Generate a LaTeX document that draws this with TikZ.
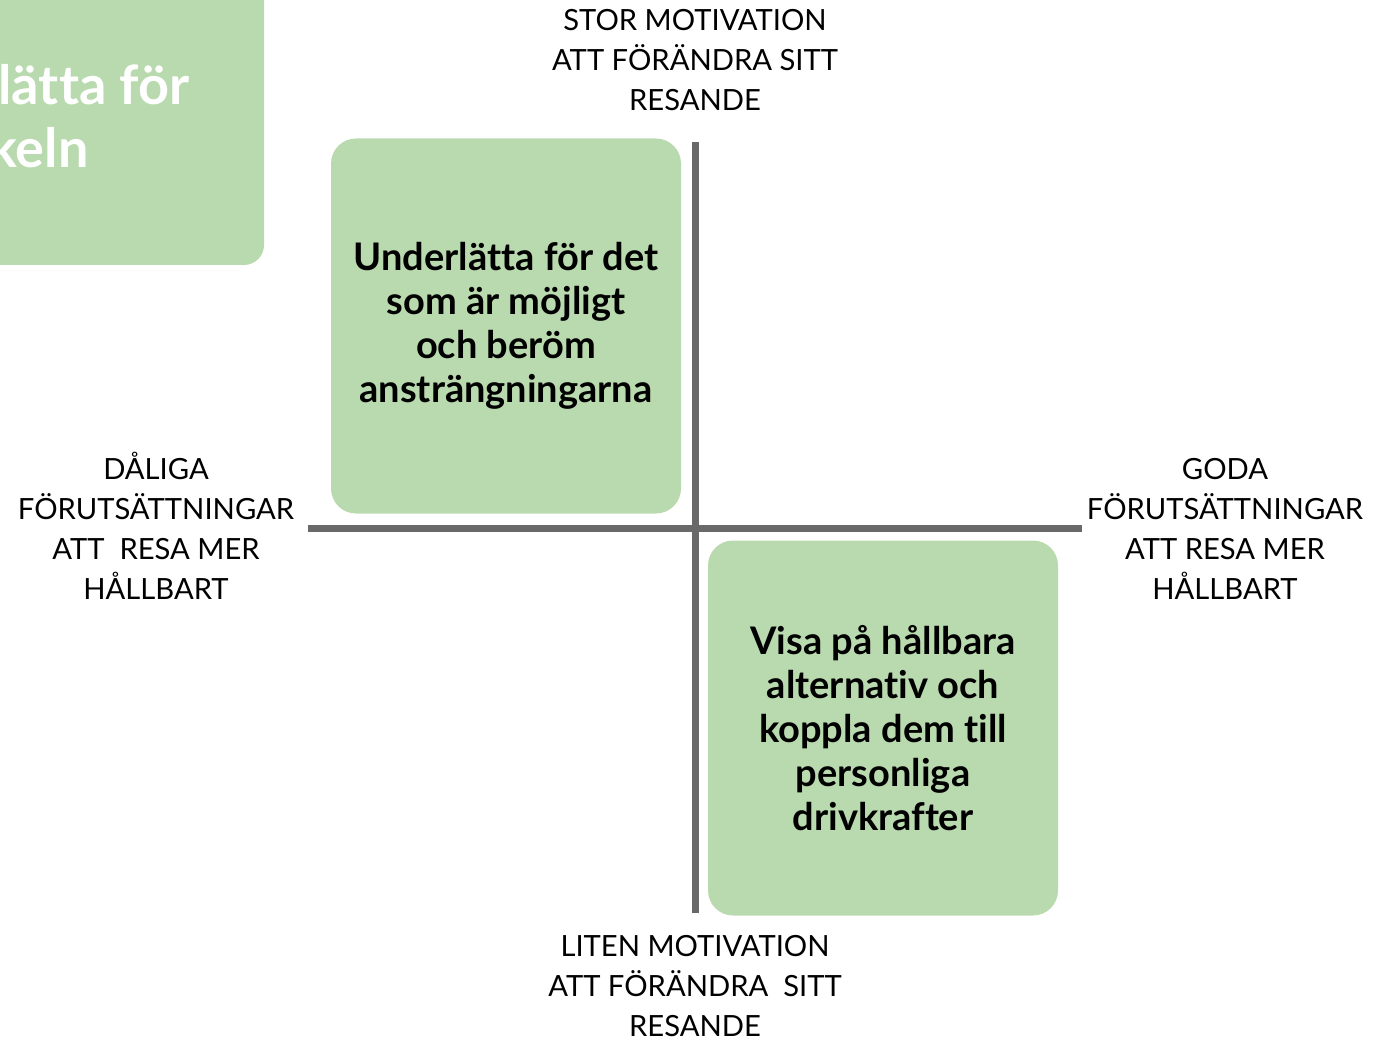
\documentclass[tikz,border=0pt]{standalone}
\usepackage{fontspec}
\setmainfont{Lato}[Ligatures=NoCommon]
\definecolor{boxgreen}{RGB}{185,217,174}
\definecolor{axisgray}{RGB}{105,105,105}
\tikzset{quadbox/.style={fill=boxgreen, rounded corners=12.5pt, minimum width=175pt, minimum height=187.5pt,
                         inner sep=0pt, align=center, font=\fontsize{19}{22}\selectfont\bfseries},
         axislabel/.style={align=center, inner sep=0pt, font=\fontsize{14.6}{20}\selectfont},
         axisline/.style={draw=axisgray, line width=3.5pt},
         cornertext/.style={anchor=base west, text=white, inner sep=0pt, font=\fontsize{27}{31.5}\selectfont\bfseries}}
\usetikzlibrary{positioning}

\begin{document}
\begin{tikzpicture}[x=0.5pt,y=-0.5pt]
\useasboundingbox (0,0) rectangle (1380,1037);
\clip (0,0) rectangle (1380,1037);
% box cut off at the corner
\fill [boxgreen, rounded corners=10pt] (-40,-40) rectangle (264,265);
\node [cornertext] (cornerA) at (-2,105) {lätta för};
\node [cornertext] (cornerB) at (-12,168) {keln};
% the two quadrants
\node [quadbox] (upleft) at (506,326) {Underlätta för det\\som är möjligt\\och beröm\\ansträngningarna};
\node [quadbox] (lowright) at (883,728) {Visa på hållbara\\alternativ och\\koppla dem till\\personliga\\drivkrafter};
% axes
\coordinate (ytop) at (695,142);
\coordinate (ybot) at (695,913);
\coordinate (xleft) at (308,528);
\coordinate (xright) at (1082,528);
\draw [axisline] (ytop) -- (ybot);
\draw [axisline] (xleft) -- (xright);
% axis labels
\node [axislabel] (high) at (695,60) {STOR MOTIVATION\\ATT FÖRÄNDRA SITT\\RESANDE};
\node [axislabel] (low) at (695,986) {LITEN MOTIVATION\\ATT FÖRÄNDRA\ \ SITT\\RESANDE};
\node [axislabel] (bad) at (156,526) {DÅLIGA\\FÖRUTSÄTTNINGAR\\ATT\ \ RESA MER\\HÅLLBART};
\node [axislabel] (good) at (1225,529) {GODA\\FÖRUTSÄTTNINGAR\\ATT RESA MER\\HÅLLBART};
\end{tikzpicture}
\end{document}
